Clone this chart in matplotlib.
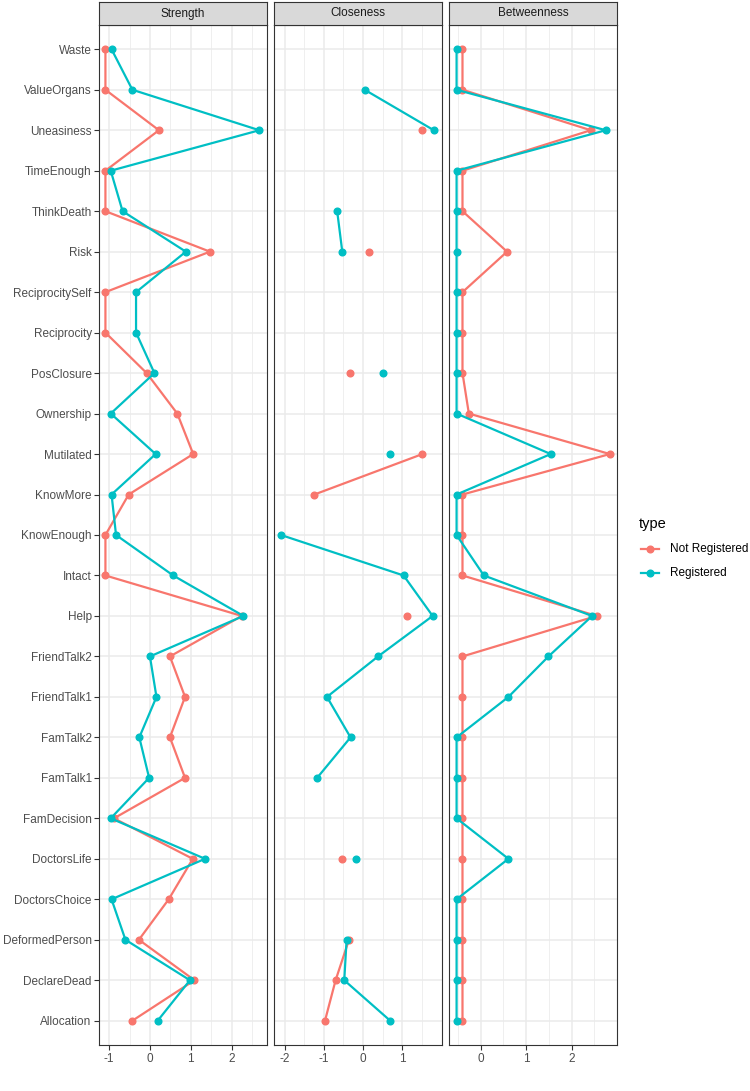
import numpy as np
import matplotlib
matplotlib.use("Agg")
from matplotlib import pyplot as plt

plt.rcParams['font.family'] = ['Liberation Sans', 'DejaVu Sans']
plt.rcParams['axes.unicode_minus'] = False

# nodes, top to bottom as in the figure
nodes = ['Waste', 'ValueOrgans', 'Uneasiness', 'TimeEnough', 'ThinkDeath', 'Risk',
         'ReciprocitySelf', 'Reciprocity', 'PosClosure', 'Ownership', 'Mutilated',
         'KnowMore', 'KnowEnough', 'Intact', 'Help', 'FriendTalk2', 'FriendTalk1',
         'FamTalk2', 'FamTalk1', 'FamDecision', 'DoctorsLife', 'DoctorsChoice',
         'DeformedPerson', 'DeclareDead', 'Allocation']
nan = np.nan

# Strength
strength_not = [-1.09, -1.09, 0.22, -1.09, -1.09, 1.47, -1.09, -1.09, -0.08, 0.67,
                1.06, -0.52, -1.09, -1.09, 2.25, 0.49, 0.86, 0.49, 0.86, -0.88,
                1.05, 0.46, -0.27, 1.09, -0.43]
strength_reg = [-0.94, -0.43, 2.68, -0.96, -0.67, 0.88, -0.34, -0.34, 0.11, -0.96,
                0.14, -0.94, -0.83, 0.57, 2.29, 0.00, 0.16, -0.26, -0.02, -0.96,
                1.35, -0.94, -0.60, 0.98, 0.19]

# Closeness (missing values leave gaps)
close_not = [nan, nan, 1.50, nan, nan, 0.15, nan, nan, -0.34, nan,
             1.51, -1.24, nan, nan, 1.11, nan, nan, nan, nan, nan,
             -0.53, nan, -0.36, -0.70, -0.97]
close_reg = [nan, 0.04, 1.80, nan, -0.66, -0.53, nan, nan, 0.50, nan,
             0.69, nan, -2.09, 1.03, 1.77, 0.38, -0.92, -0.32, -1.17, nan,
             -0.17, nan, -0.42, -0.48, 0.69]

# Betweenness
betw_not = [-0.40, -0.40, 2.42, -0.40, -0.40, 0.58, -0.40, -0.40, -0.40, -0.26,
            2.84, -0.40, -0.40, -0.40, 2.55, -0.40, -0.40, -0.40, -0.40, -0.40,
            -0.40, -0.40, -0.40, -0.40, -0.40]
betw_reg = [-0.53, -0.53, 2.75, -0.53, -0.53, -0.53, -0.53, -0.53, -0.53, -0.53,
            1.54, -0.53, -0.53, 0.07, 2.45, 1.49, 0.61, -0.53, -0.53, -0.53,
            0.61, -0.53, -0.53, -0.53, -0.53]

panels = [
    ('Strength', strength_not, strength_reg, (-1.24, 2.86), [-1, 0, 1, 2]),
    ('Closeness', close_not, close_reg, (-2.26, 2.0), [-2, -1, 0, 1]),
    ('Betweenness', betw_not, betw_reg, (-0.69, 2.99), [0, 1, 2]),
]

red = '#F8766D'
teal = '#00BFC4'

fig = plt.figure(figsize=(7.5, 10.91), dpi=100)
y = np.arange(len(nodes))
lefts = [99.3, 274.3, 449.3]
W, H = 750.0, 1091.0
pw = 167.4
top, bottom = 25.0, 1045.0

for i, (title, v_not, v_reg, xl, ticks) in enumerate(panels):
    ax = fig.add_axes([lefts[i] / W, 1 - bottom / H, pw / W, (bottom - top) / H])
    ax.set_facecolor('white')
    ax.plot(v_not, y, color=red, lw=1.6, marker='o', ms=4.8, zorder=3)
    ax.plot(v_reg, y, color=teal, lw=1.6, marker='o', ms=4.8, zorder=4)
    ax.set_xlim(xl)
    ax.set_ylim(len(nodes) - 1 + 0.6, -0.6)
    ax.set_xticks(ticks)
    ax.set_xticks([t + 0.5 for t in range(int(np.floor(xl[0])) - 1, int(np.ceil(xl[1])) + 1)
                   if xl[0] < t + 0.5 < xl[1]], minor=True)
    ax.set_yticks(y)
    ax.grid(True, which='major', color='#EBEBEB', lw=1.1, zorder=0)
    ax.grid(True, which='minor', axis='x', color='#EBEBEB', lw=0.55, zorder=0)
    ax.set_axisbelow(True)
    ax.tick_params(axis='both', which='major', labelsize=8.5, labelcolor='#4D4D4D',
                   color='#333333', length=3.5, width=0.8, pad=2)
    ax.tick_params(axis='x', which='minor', length=0)
    if i == 0:
        ax.set_yticklabels(nodes)
    else:
        ax.set_yticklabels([])
        ax.tick_params(axis='y', length=0)
    for s in ax.spines.values():
        s.set_color('#333333')
        s.set_linewidth(0.8)

    # facet strip
    sax = fig.add_axes([lefts[i] / W, 1 - top / H, pw / W, 23 / H])
    sax.set_facecolor('#D9D9D9')
    sax.set_xticks([])
    sax.set_yticks([])
    for s in sax.spines.values():
        s.set_color('#333333')
        s.set_linewidth(0.8)
    sax.text(0.5, 0.5, title, ha='center', va='center', fontsize=8.5,
             color='#1A1A1A', transform=sax.transAxes)

# legend
fig.text(639 / W, 1 - 524 / H, 'type', fontsize=10.5, va='center', ha='left')
for label, c, yy in [('Not Registered', red, 549), ('Registered', teal, 573)]:
    fy = 1 - yy / H
    fig.add_artist(plt.Line2D([641 / W, 659 / W], [fy, fy], color=c, lw=1.6))
    fig.add_artist(plt.Line2D([650 / W], [fy], color=c, marker='o', ms=4.8, lw=0))
    fig.text(670 / W, fy, label, fontsize=8.5, va='center', ha='left')

fig.savefig('out.png', dpi=100)
